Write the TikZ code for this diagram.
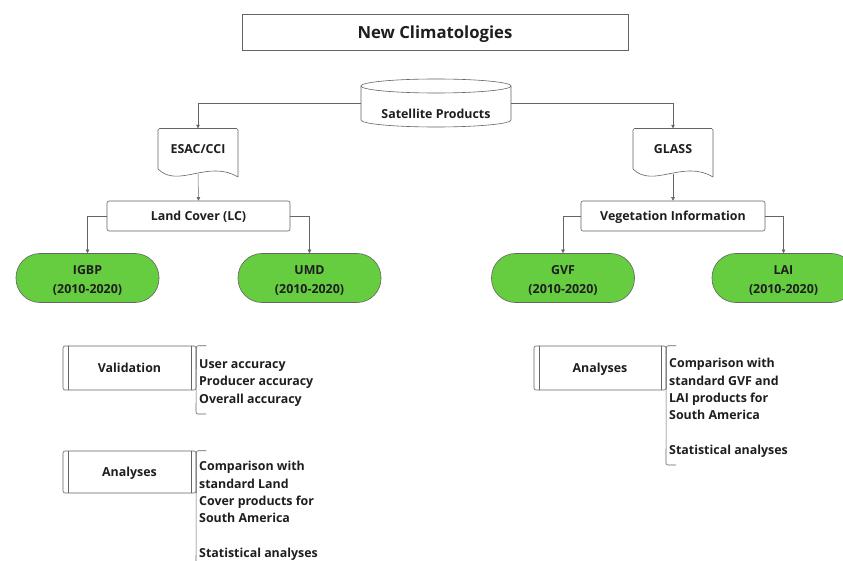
\documentclass[tikz,border=0pt]{standalone}
\usepackage{fontspec}
\setmainfont{Open Sans}
\usetikzlibrary{arrows.meta}
\definecolor{leaf}{RGB}{102,204,64}
\definecolor{edge}{RGB}{100,100,100}
\definecolor{ink}{RGB}{30,30,30}
\tikzset{
  txt/.style={font=\bfseries\fontsize{12.4}{17.3}\selectfont, text=ink},
  plainbox/.style={draw=edge, line width=0.6pt, rounded corners=2pt, txt, text depth=0pt},
  titlebox/.style={draw=edge, line width=0.7pt, font=\bfseries\fontsize{16.7}{20}\selectfont, text=ink, text depth=0pt},
  leafbox/.style={draw=edge, line width=0.6pt, fill=leaf, rounded corners=24pt, minimum width=143pt, minimum height=49pt, align=center, font=\bfseries\fontsize{12.4}{19}\selectfont, text=ink},
  ghost/.style={draw=none, txt, text depth=0pt},
  conn/.style={draw=edge, line width=0.5pt, -{Triangle[length=3.5pt,width=3.5pt]}},
  outline/.style={draw=edge, line width=0.6pt},
  listtxt/.style={txt, align=left, anchor=west, inner sep=0pt},
}
\newcommand{\lift}{\rule{0pt}{14pt}}
\begin{document}
\begin{tikzpicture}[x=1pt,y=-1pt]
\useasboundingbox[fill=white] (0,0) rectangle (843,561);
% title
\node[titlebox, minimum width=386pt, minimum height=36pt] (title) at (435,32) {New Climatologies};
% satellite cylinder
\node[ghost, minimum width=150pt, minimum height=48pt] (sat) at (436,103) {};
\draw[outline] (436,86) ellipse[x radius=75pt, y radius=7pt];
\draw[outline] (361,86) -- (361,120) arc[start angle=180, end angle=360, x radius=75pt, y radius=7pt] -- (511,86);
\node[ghost] (sattxt) at (436,114) {Satellite Products};
% document shapes
\node[ghost, minimum width=80pt, minimum height=41pt] (esac) at (198,149) {ESAC/CCI};
\draw[outline, rounded corners=1.5pt] (158,169) -- (158,128.5) -- (238,128.5) -- (238,177);
\draw[outline] (158,169) .. controls (178,189) and (208,159) .. (238,177);
\node[ghost, minimum width=80pt, minimum height=41pt] (glass) at (673,149) {GLASS};
\draw[outline, rounded corners=1.5pt] (633,169) -- (633,128.5) -- (713,128.5) -- (713,177);
\draw[outline] (633,169) .. controls (653,189) and (683,159) .. (713,177);
% mid boxes
\node[plainbox, minimum width=183pt, minimum height=30pt] (lc) at (198.5,216) {Land Cover (LC)};
\node[plainbox, minimum width=184pt, minimum height=30pt] (veg) at (673,216) {Vegetation Information};
% leaves
\node[leafbox] (igbp) at (87.5,278) {\lift IGBP\\(2010-2020)};
\node[leafbox] (umd) at (309.5,278) {\lift UMD\\(2010-2020)};
\node[leafbox] (gvf) at (563,278) {\lift GVF\\(2010-2020)};
\node[leafbox] (lai) at (783.5,278) {\lift LAI\\(2010-2020)};
% connectors
\draw[conn] (sat.west) -| (esac.north);
\draw[conn] (sat.east) -| (glass.north);
\draw[conn] ([yshift=-4pt]esac.south) -- (lc.north);
\draw[conn] ([yshift=-4pt]glass.south) -- (veg.north);
\draw[conn] (lc.west) -| (igbp.north);
\draw[conn] (lc.east) -| (umd.north);
\draw[conn] (veg.west) -| (gvf.north);
\draw[conn] (veg.east) -| (lai.north);
% predefined process boxes
\node[plainbox, minimum width=133pt, minimum height=44pt] (val) at (129.5,368) {Validation};
\draw[outline] ([xshift=6pt]val.north west) -- ([xshift=6pt]val.south west);
\draw[outline] ([xshift=-5pt]val.north east) -- ([xshift=-5pt]val.south east);
\node[plainbox, minimum width=133pt, minimum height=42pt] (ana) at (129.5,472) {Analyses};
\draw[outline] ([xshift=6pt]ana.north west) -- ([xshift=6pt]ana.south west);
\draw[outline] ([xshift=-5pt]ana.north east) -- ([xshift=-5pt]ana.south east);
\node[plainbox, minimum width=132pt, minimum height=44pt] (anb) at (600,368) {Analyses};
\draw[outline] ([xshift=6pt]anb.north west) -- ([xshift=6pt]anb.south west);
\draw[outline] ([xshift=-5pt]anb.north east) -- ([xshift=-5pt]anb.south east);
% brackets
\coordinate (vb) at (196,414);
\coordinate (ab) at (196,575);
\coordinate (bb) at (666,465);
\draw[outline, rounded corners=2pt] ([xshift=10pt]val.north east) -- (val.north east) -- (vb) -- ([xshift=10pt]vb);
\draw[outline, rounded corners=2pt] ([xshift=10pt]ana.north east) -- (ana.north east) -- (ab);
\draw[outline, rounded corners=2pt] ([xshift=10pt]anb.north east) -- (anb.north east) -- (bb) -- ([xshift=10pt]bb);
% lists
\node[listtxt] (vlist) at (199,383) {User accuracy\\Producer accuracy\\Overall accuracy};
\node[listtxt] (alist) at (199,511) {Comparison with\\standard Land\\Cover products for\\South America\\[17.3pt]Statistical analyses};
\node[listtxt] (blist) at (669,408) {Comparison with\\standard GVF and\\LAI products for\\South America\\[17.3pt]Statistical analyses};
\end{tikzpicture}
\end{document}
